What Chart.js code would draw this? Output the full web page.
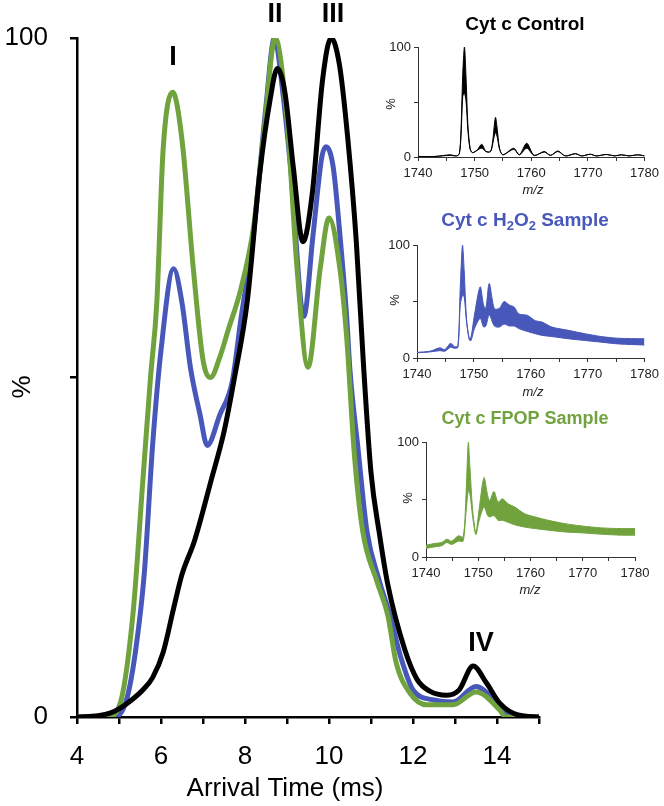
<!DOCTYPE html>
<html>
<head>
<meta charset="utf-8">
<script src="https://cdn.jsdelivr.net/npm/chart.js@4/dist/chart.umd.min.js"></script>
<style>
  body { margin: 0; background: #fff; }
  #wrap { position: relative; width: 664px; height: 806px; }
  canvas { position: absolute; left: 0; top: 0; }
  .inset { left: 370px; }
</style>
</head>
<body>
<div id="wrap">
  <canvas id="main" width="664" height="806"></canvas>
  <canvas id="ins1" class="inset" width="294" height="200" style="top:0px"></canvas>
  <canvas id="ins2" class="inset" width="294" height="200" style="top:200px"></canvas>
  <canvas id="ins3" class="inset" width="294" height="200" style="top:400px"></canvas>
</div>
<script>
// arrival time distributions (ms, %)
var controlTime = [4.0, 4.5, 4.8, 5.0, 5.3, 5.6, 5.8, 6.05, 6.3, 6.5, 6.8, 7.2, 7.5, 7.75, 8.05, 8.35, 8.6, 8.77, 8.95, 9.15, 9.38, 9.6, 9.85, 10.05, 10.25, 10.45, 10.65, 10.82, 11.0, 11.2, 11.4, 11.8, 12.1, 12.4, 12.8, 13.1, 13.43, 13.75, 14.07, 14.5, 15];
var controlPct = [0, 0.2, 0.6, 1.2, 2.5, 4.2, 5.8, 9.5, 16, 21, 26, 35, 42, 50, 61, 80, 91, 95.5, 92, 81, 70, 77, 94, 100, 96, 85, 70, 52, 36, 27, 19.5, 10, 5.5, 3.8, 3.2, 4, 7.5, 5, 2, 0.3, 0];

var h2o2Time = [4.0, 4.8, 5.0, 5.2, 5.4, 5.6, 5.8, 6.0, 6.3, 6.5, 6.7, 6.93, 7.1, 7.4, 7.7, 7.9, 8.2, 8.5, 8.7, 8.9, 9.1, 9.4, 9.62, 9.83, 9.93, 10.1, 10.26, 10.42, 10.5, 10.7, 10.9, 11.2, 11.45, 11.7, 12.0, 12.5, 12.95, 13.5, 14.07, 14.3, 15];
var h2o2Pct = [0, 0, 0.3, 3, 10, 21, 40, 54, 66, 61, 51.5, 44.5, 40, 44.5, 49.5, 58.5, 71, 90, 100, 92, 80, 59, 71, 82.5, 84, 81, 71, 59, 51, 39, 27.5, 20, 15, 9, 4, 2.5, 2.2, 4.5, 1.5, 0.3, 0];

var fpopTime = [4.0, 4.7, 5.0, 5.33, 5.57, 5.75, 5.9, 6.05, 6.28, 6.5, 6.77, 7.0, 7.18, 7.4, 7.6, 7.9, 8.2, 8.45, 8.72, 9.0, 9.24, 9.5, 9.79, 10.0, 10.26, 10.42, 10.6, 10.8, 11.14, 11.4, 11.6, 11.93, 12.33, 12.95, 13.5, 14.07, 14.2, 15];
var fpopPct = [0, 0, 1.5, 15, 35, 50, 61, 83.5, 92, 85, 66, 52.6, 50, 53, 57, 63, 72, 86, 100, 88, 66, 51.5, 66, 73.5, 66, 56, 39, 27.5, 20, 15, 8, 3.5, 1.8, 1.8, 3.7, 1, 0, 0];

var xTicks = [4, 6, 8, 10, 12, 14];
var yTicks = [0, 100];

// mass spectra insets (m/z, upper and lower edge of the trace, %)
var ctrlMz = [1740, 1743, 1745.7, 1746.8, 1747.3, 1747.6, 1747.9, 1748.2, 1748.5, 1748.8, 1749.2, 1749.6, 1750.4, 1751.25, 1752.0, 1752.8, 1753.2, 1753.5, 1753.7, 1754.0, 1754.4, 1755, 1756.9, 1757.9, 1759.2, 1760.5, 1762.3, 1763.4, 1764.7, 1766, 1767.8, 1768.9, 1770.4, 1771.5, 1773.3, 1774.7, 1775.9, 1777.3, 1778.8, 1780];
var ctrlHigh = [0.5, 0.5, 2, 1, 3, 25, 75, 100, 70, 30, 8, 4, 6, 11.5, 5, 5, 15, 30, 36, 25, 8, 2, 8, 2, 12.5, 1.5, 5, 1.5, 5.5, 1, 3, 1, 2.5, 1, 2.3, 1, 2, 1, 2, 1];
var ctrlLow = [0.5, 0.5, 1.5, 1, 3, 20, 55, 58, 50, 25, 7, 4, 6, 8, 5, 5, 12, 20, 22, 18, 7, 2, 7, 2, 8, 1.5, 4.5, 1.5, 5, 1, 3, 1, 2.5, 1, 2.3, 1, 2, 1, 2, 1];

var h2o2Mz = [1740, 1742.3, 1744, 1744.9, 1745.9, 1746.6, 1747.2, 1747.6, 1748.0, 1748.3, 1748.7, 1749.2, 1749.5, 1750.1, 1751.1, 1751.7, 1752.1, 1752.7, 1753.6, 1754.5, 1755.3, 1756.2, 1757.1, 1757.9, 1759.4, 1760.8, 1762, 1763.7, 1766.6, 1769.5, 1772.4, 1775.3, 1780];
var h2o2High = [5, 6, 9, 7.5, 13, 10, 11, 61.6, 100, 77, 35, 17, 18.5, 38, 63, 47, 44, 66, 43.7, 44, 50, 47, 45, 39, 37.8, 33, 31.8, 27.4, 24.5, 21.5, 19, 17.5, 17];
var h2o2Low = [4.6, 5.4, 6.5, 6, 9.5, 8.6, 9.5, 46.7, 55.5, 54, 32, 16, 15.5, 26, 35, 27.5, 28.3, 38, 28.3, 27.4, 30, 28.3, 28.3, 26, 23.5, 21.5, 20, 19, 17, 15.5, 14, 12.5, 11.5];

var fpopMz = [1740, 1741.7, 1743, 1744, 1744.9, 1746.2, 1747.1, 1747.6, 1748.1, 1748.4, 1748.9, 1749.4, 1749.6, 1750.1, 1751.1, 1751.8, 1752.2, 1753, 1753.8, 1754.6, 1755.8, 1757, 1758.9, 1760.9, 1763.4, 1766.6, 1769.8, 1773.6, 1777.4, 1780];
var fpopHigh = [10.3, 11.8, 12.6, 15.5, 13.8, 18.4, 17.5, 47.7, 100, 79, 42, 23, 21, 39, 69, 53.4, 49, 57, 47.7, 50.6, 46, 43.4, 37.6, 34.8, 31.9, 29, 27, 25.3, 24.7, 24.7];
var fpopLow = [7.5, 8.9, 9.8, 12.6, 10.9, 13.8, 13.8, 36, 57.8, 55, 36, 21, 19.5, 30.5, 43.4, 36, 34.8, 36, 31.9, 31.9, 30, 28, 26, 24.7, 23.3, 21.8, 21, 19.8, 19, 19];

var BLUE = '#4858BA';
var GREEN = '#70A33D';
var FONT = 'Liberation Sans, Arial, sans-serif';

function pairs(xs, ys) {
    return xs.map(function (x, i) { return { x: x, y: ys[i] }; });
}

var mainText = {
    id: 'mainText',
    afterDraw: function (chart) {
        var c = chart.ctx;
        c.save();
        c.fillStyle = '#000';
        c.textAlign = 'center';
        c.textBaseline = 'middle';
        c.font = 'bold 27px ' + FONT;
        c.fillText('I', 173, 58);
        c.fillText('II', 275, 15);
        c.fillText('III', 333, 15);
        c.fillText('IV', 481, 644);
        c.font = '26px ' + FONT;
        c.fillText('Arrival Time (ms)', 285, 789);
        c.translate(23, 387);
        c.rotate(-Math.PI / 2);
        c.fillText('%', 0, 0);
        c.restore();
    }
};

new Chart(document.getElementById('main'), {
    type: 'line',
    data: {
        datasets: [
            { label: 'Control', data: pairs(controlTime, controlPct), borderColor: '#000', borderWidth: 5, order: 0 },
            { label: 'FPOP', data: pairs(fpopTime, fpopPct), borderColor: GREEN, borderWidth: 5, order: 1 },
            { label: 'H2O2', data: pairs(h2o2Time, h2o2Pct), borderColor: BLUE, borderWidth: 5, order: 2 }
        ]
    },
    options: {
        responsive: false,
        animation: false,
        elements: { point: { radius: 0 }, line: { cubicInterpolationMode: 'monotone' } },
        layout: { padding: { top: 38, right: 125, left: 0, bottom: 0 } },
        plugins: { legend: { display: false }, tooltip: { enabled: false } },
        scales: {
            x: {
                type: 'linear', min: 4, max: 15,
                ticks: {
                    stepSize: 1, color: '#000', padding: 17, maxRotation: 0, autoSkip: false,
                    font: { family: FONT, size: 26 },
                    callback: function (v) { return xTicks.indexOf(v) >= 0 ? v : ''; }
                },
                grid: { drawOnChartArea: false, tickLength: 7, color: '#000', lineWidth: 2.5 },
                border: { color: '#000', width: 2.5 },
                afterFit: function (s) { s.height = 89; }
            },
            y: {
                min: 0, max: 100,
                ticks: {
                    stepSize: 50, color: '#000', padding: 22,
                    font: { family: FONT, size: 26 },
                    callback: function (v) { return yTicks.indexOf(v) >= 0 ? v : ''; }
                },
                grid: { drawOnChartArea: false, tickLength: 7, color: '#000', lineWidth: 2.5 },
                border: { color: '#000', width: 2.5 },
                afterFit: function (s) { s.width = 77; }
            }
        }
    },
    plugins: [mainText]
});

function insetText(title, color, size, titleY, pctPos, mzPos) {
    return {
        id: 'insetText',
        afterDraw: function (chart) {
            var c = chart.ctx;
            c.save();
            c.textBaseline = 'middle';
            // title, with optional subscripts
            var big = 'bold ' + size + 'px ' + FONT, small = 'bold ' + Math.round(size * 0.7) + 'px ' + FONT;
            var w = 0;
            title.forEach(function (p) { c.font = p.sub ? small : big; w += c.measureText(p.t).width; });
            var x = 155 - w / 2;
            c.fillStyle = color;
            c.textAlign = 'left';
            title.forEach(function (p) {
                c.font = p.sub ? small : big;
                c.fillText(p.t, x, titleY + (p.sub ? 5 : 0));
                x += c.measureText(p.t).width;
            });
            c.fillStyle = '#222';
            c.textAlign = 'center';
            c.font = 'italic 13px ' + FONT;
            c.fillText('m/z', mzPos[0], mzPos[1]);
            c.font = '13px ' + FONT;
            c.translate(pctPos[0], pctPos[1]);
            c.rotate(-Math.PI / 2);
            c.fillText('%', 0, 0);
            c.restore();
        }
    };
}

function makeInset(id, mz, high, low, color, frame, text) {
    new Chart(document.getElementById(id), {
        type: 'line',
        data: {
            datasets: [
                { data: pairs(mz, high), borderColor: color, borderWidth: 1, fill: false },
                { data: pairs(mz, low), borderColor: color, borderWidth: 1, backgroundColor: color, fill: '-1' }
            ]
        },
        options: {
            responsive: false,
            animation: false,
            elements: { point: { radius: 0 }, line: { tension: 0.3 } },
            layout: { padding: { top: frame.top, right: frame.right, left: 0, bottom: 0 } },
            plugins: { legend: { display: false }, tooltip: { enabled: false } },
            scales: {
                x: {
                    type: 'linear', min: 1740, max: 1780,
                    ticks: {
                        stepSize: 5, color: '#222', padding: 5, maxRotation: 0, minRotation: 0, autoSkip: false,
                        font: { family: FONT, size: 13 },
                        callback: function (v) { return v % 10 === 0 ? v : ''; }
                    },
                    grid: { drawOnChartArea: false, tickLength: 4, color: '#333', lineWidth: 1 },
                    border: { color: '#333', width: 1 },
                    afterFit: function (s) { s.height = frame.bottom; }
                },
                y: {
                    min: 0, max: 100,
                    ticks: {
                        stepSize: 50, color: '#222', padding: 3,
                        font: { family: FONT, size: 13 },
                        callback: function (v) { return v === 50 ? '' : v; }
                    },
                    grid: { drawOnChartArea: false, tickLength: 4, color: '#333', lineWidth: 1 },
                    border: { color: '#333', width: 1 },
                    afterFit: function (s) { s.width = frame.left; }
                }
            }
        },
        plugins: [text]
    });
}

makeInset('ins1', ctrlMz, ctrlHigh, ctrlLow, '#000',
    { top: 47, right: 16, left: 48, bottom: 43 },
    insetText([{ t: 'Cyt c Control' }], '#000', 19, 25, [21, 104], [163, 190]));
makeInset('ins2', h2o2Mz, h2o2High, h2o2Low, BLUE,
    { top: 45, right: 17, left: 47, bottom: 42 },
    insetText([{ t: 'Cyt c H' }, { t: '2', sub: true }, { t: 'O' }, { t: '2', sub: true }, { t: ' Sample' }], BLUE, 19, 21, [25, 100], [163, 192]));
makeInset('ins3', fpopMz, fpopHigh, fpopLow, GREEN,
    { top: 42, right: 29, left: 56, bottom: 43 },
    insetText([{ t: 'Cyt c FPOP Sample' }], GREEN, 18, 19, [38, 98], [160, 190]));
</script>
</body>
</html>
